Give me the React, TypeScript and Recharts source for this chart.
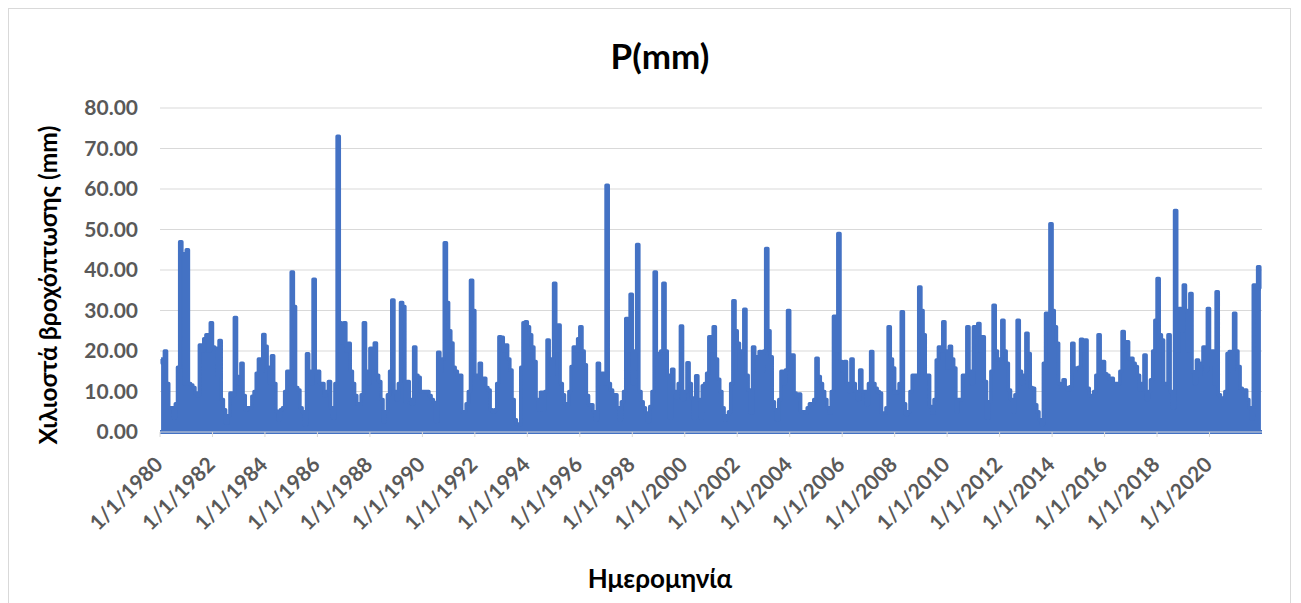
import { Area, AreaChart, CartesianGrid, ReferenceLine, XAxis, YAxis } from "recharts";

const rain1980s = [
  18, 17, 20, 12, 6, 6, 3.5, 7, 16, 47, 44, 12, // 1980
  45, 12, 11.6, 11, 9.6, 9, 21.5, 20, 23, 24, 20, 27, // 1981
  21, 20.7, 14, 22.6, 8, 5.5, 2.2, 4, 9.6, 9, 28.3, 13.7, // 1982
  12, 17, 9, 5.5, 6, 6, 8.8, 10, 14.5, 18, 15, 24.1, // 1983
  21.2, 16, 12, 18.8, 12, 5.1, 3, 5.5, 6, 10, 15, 12, // 1984
  39.5, 31, 11, 10.4, 6, 5, 1.8, 19.3, 15, 12, 37.7, 15, // 1985
  15, 12, 12, 9, 10, 12.5, 6, 3.4, 12, 73, 27, 22, // 1986
  27, 20, 21.9, 15, 12, 9, 7, 7, 9.2, 27, 15, 12, // 1987
  20.7, 16, 22, 14, 12.5, 8, 2.6, 5, 9.2, 15, 32.6, 10, // 1988
  8, 12, 32, 31, 7.5, 12.5, 8, 7, 21, 14, 13.5, 10 // 1989
];
const rain1990s = [
  10, 10, 10, 9, 8, 7.3, 2.6, 19.7, 15, 18, 46.7, 32, // 1990
  25, 22, 16, 15, 14, 14, 5, 5, 7, 10, 37.5, 30, // 1991
  14, 14, 17, 13, 13.3, 11, 10.4, 5.5, 5, 5.5, 12, 23.5, // 1992
  23.4, 20, 21.5, 18, 15.3, 8, 3, 2, 1.8, 16, 27, 27.2, // 1993
  26, 24, 21, 17.4, 8, 5.5, 9.8, 5.5, 10, 22.7, 18, 14, // 1994
  36.7, 20, 26.4, 12, 9.2, 7, 6.7, 10, 16.2, 21, 20, 23, // 1995
  26, 20, 16.6, 9, 6.7, 6.7, 5, 3, 17, 12, 14.5, 12, // 1996
  60.9, 12, 10.4, 9, 9.2, 6, 3, 7.5, 10, 28, 20, 34, // 1997
  12, 20, 46.3, 10, 7.5, 6, 4.7, 2.6, 6.3, 10, 39.5, 19.4, // 1998
  19.4, 20, 36.7, 20, 14, 3.4, 15.5, 10, 8.4, 12, 26.2, 8 // 1999
];
const rain2000s = [
  10, 17.1, 12, 8.4, 3.4, 13.9, 8, 3.4, 11.4, 12, 14.5, 23.5, // 2000
  20, 26, 18, 13, 10, 6, 3, 4, 5, 12, 32.4, 25, // 2001
  21.9, 15, 20, 30.3, 14, 10.4, 4.7, 21, 18.6, 15, 19.9, 15, // 2002
  20, 45.3, 25, 18.6, 7.5, 5.5, 3, 8, 15, 12, 15.3, 30, // 2003
  19, 19, 9.6, 9, 9.4, 5, 5, 4.7, 6, 7, 7, 8, // 2004
  18.2, 13.7, 12, 10, 8, 6, 4.7, 10, 28.6, 20, 49, 17.4, // 2005
  15, 17.4, 12, 10, 18, 12, 10, 8, 15.3, 10, 10, 6.7, // 2006
  12, 19.9, 12, 10.8, 10, 9.6, 4.7, 4.7, 6, 26, 18, 15.8, // 2007
  9.6, 10, 12, 29.7, 7, 4.3, 5, 10, 14, 14, 14, 35.8, // 2008
  30, 24, 14, 14, 6.3, 4.7, 8, 17.8, 21, 20, 27.2, 20 // 2009
];
const rain2010s = [
  15.8, 21.2, 18, 15.8, 5, 8, 8, 14, 14, 26, 15, 12, // 2010
  26, 24, 26.8, 20, 23.5, 12.5, 3.4, 7.5, 15, 31.3, 20, 17.8, // 2011
  18, 27.6, 20, 17, 10.4, 8, 5, 9.2, 27.6, 15, 12, 14, // 2012
  24.4, 19.4, 11, 10.8, 6.7, 5, 3, 1.8, 17, 29.3, 25, 51.4, // 2013
  30, 26, 21.9, 12, 11.2, 12.9, 11, 10.4, 11.2, 21.9, 15, 15.8, // 2014
  16, 22.9, 20, 22.7, 10.8, 9, 8.8, 10, 14, 24, 15, 17.4, // 2015
  14.4, 14, 13, 13.3, 12, 12, 12, 15, 24.8, 20, 22.3, 18, // 2016
  18.2, 17, 16.2, 14, 10.4, 12, 19, 8, 10, 12.9, 20, 27.6, // 2017
  37.9, 24, 22.7, 12, 12, 24, 10, 6, 54.7, 20, 30.5, 25, // 2018
  36.3, 30, 20, 34.2, 14.9, 12, 17.8, 14, 17, 21, 15, 30.5 // 2019
];
const rain2020s = [
  16.6, 20, 12, 34.6, 9.2, 8.4, 8.4, 10, 19.4, 19.9, 15, 29.3, // 2020
  20, 16.2, 10.8, 10, 10.4, 8, 6, 3.2, 36.3, 30, 40.8, 35.4 // 2021
];

const startYear = 1980;
const tickYears = [1980, 1982, 1984, 1986, 1988, 1990, 1992, 1994, 1996, 1998, 2000,
  2002, 2004, 2006, 2008, 2010, 2012, 2014, 2016, 2018, 2020];
const yTicks = [0, 10, 20, 30, 40, 50, 60, 70, 80];

const monthly = [...rain1980s, ...rain1990s, ...rain2000s, ...rain2010s, ...rain2020s];
const data = monthly.map((p, i) => ({ t: startYear + (i + 0.5) / 12, p }));

const BLUE = "#4472C4";
const GREY = "#595959";

function DateTick({ x, y, payload }: any) {
  const px = x + 4;
  const py = y + 27;
  return (
    <text
      x={px}
      y={py}
      textAnchor="end"
      fill={GREY}
      fontSize={21}
      fontWeight={700}
      transform={`rotate(-45 ${px} ${py})`}
    >
      {`1/1/${payload.value}`}
    </text>
  );
}

export default function App() {
  return (
    <div
      style={{
        position: "relative",
        width: 1283,
        height: 596,
        border: "1px solid #d9d9d9",
        boxSizing: "border-box",
        background: "#fff",
        fontFamily: "Lato, 'Open Sans', sans-serif"
      }}
    >
      <div
        style={{
          position: "absolute",
          left: 651,
          top: 46,
          transform: "translate(-50%, -50%)",
          fontSize: 35,
          fontWeight: 700,
          color: "#000",
          whiteSpace: "nowrap"
        }}
      >
        P(mm)
      </div>
      <div
        style={{
          position: "absolute",
          left: 38,
          top: 276,
          transform: "translate(-50%, -50%) rotate(-90deg)",
          fontSize: 24.5,
          fontWeight: 700,
          color: "#000",
          whiteSpace: "nowrap"
        }}
      >
        Χιλιοστά βροχόπτωσης (mm)
      </div>
      <div
        style={{
          position: "absolute",
          left: 651,
          top: 569,
          transform: "translate(-50%, -50%)",
          fontSize: 26,
          fontWeight: 700,
          color: "#000",
          whiteSpace: "nowrap"
        }}
      >
        Ημερομηνία
      </div>
      <AreaChart
        width={1281}
        height={594}
        data={data}
        margin={{ top: 99, right: 28, bottom: 111, left: 0 }}
      >
        <CartesianGrid vertical={false} stroke="#d9d9d9" />
        <XAxis
          dataKey="t"
          type="number"
          domain={[1980, 2022]}
          ticks={tickYears}
          interval={0}
          height={60}
          tickSize={5}
          tickMargin={2}
          tickLine={{ stroke: "#d9d9d9" }}
          axisLine={{ stroke: "#d9d9d9" }}
          tick={<DateTick />}
        />
        <YAxis
          type="number"
          domain={[0, 80]}
          ticks={yTicks}
          width={151}
          tickLine={false}
          axisLine={false}
          tickSize={6}
          tickMargin={16}
          tick={{ fill: GREY, fontSize: 21, fontWeight: 700 }}
          tickFormatter={(v: number) => v.toFixed(2)}
        />
        <Area
          type="step"
          dataKey="p"
          stroke={BLUE}
          strokeWidth={3.5}
          strokeLinejoin="round"
          fill={BLUE}
          fillOpacity={1}
          dot={false}
          activeDot={false}
          isAnimationActive={false}
        />
        <ReferenceLine y={0} stroke={BLUE} strokeWidth={4} />
      </AreaChart>
    </div>
  );
}
